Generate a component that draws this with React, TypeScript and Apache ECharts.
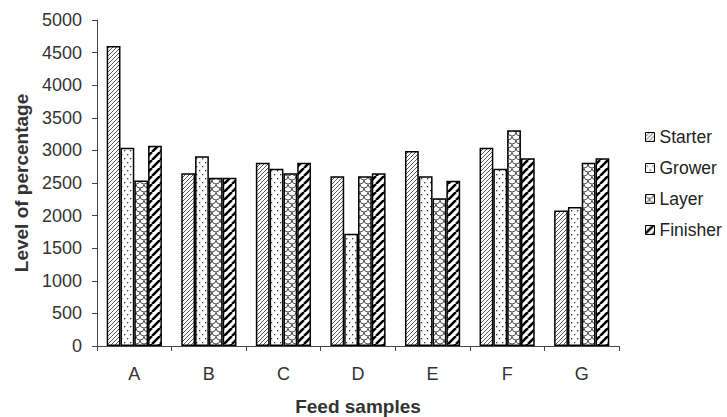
import React, { useEffect, useRef } from "react";
import * as echarts from "echarts";

const categories = ["A", "B", "C", "D", "E", "F", "G"];
const seriesNames = ["Starter", "Grower", "Layer", "Finisher"];
const starter = [4600, 2650, 2810, 2605, 2990, 3040, 2080];
const grower = [3040, 2910, 2720, 1720, 2605, 2720, 2130];
const layer = [2540, 2580, 2650, 2605, 2265, 3310, 2810];
const finisher = [3070, 2580, 2810, 2650, 2535, 2880, 2880];
const yTicks = { min: 0, max: 5000, interval: 500 };

function makeCanvas(w: number, h: number, draw: (c: CanvasRenderingContext2D) => void) {
  const cv = document.createElement("canvas");
  cv.width = w;
  cv.height = h;
  const ctx = cv.getContext("2d")!;
  ctx.fillStyle = "#ffffff";
  ctx.fillRect(0, 0, w, h);
  draw(ctx);
  return cv;
}

function diag(s: number, width: number, color: string) {
  return makeCanvas(s, s, (ctx) => {
    ctx.strokeStyle = color;
    ctx.lineWidth = width;
    ctx.beginPath();
    for (const k of [-1, 0, 1]) {
      ctx.moveTo(k * s, s);
      ctx.lineTo(k * s + s, 0);
    }
    ctx.stroke();
  });
}

function dots() {
  return makeCanvas(6, 8, (ctx) => {
    ctx.fillStyle = "#333";
    ctx.fillRect(1, 2, 1.3, 1.3);
    ctx.fillRect(4, 6, 1.3, 1.3);
  });
}

function scales() {
  return makeCanvas(8, 8, (ctx) => {
    ctx.strokeStyle = "#555";
    ctx.lineWidth = 1;
    ctx.beginPath();
    ctx.arc(4, 0, 4, 0, Math.PI);
    ctx.stroke();
    ctx.beginPath();
    ctx.arc(0, 4, 4, 0, Math.PI / 2);
    ctx.stroke();
    ctx.beginPath();
    ctx.arc(8, 4, 4, Math.PI / 2, Math.PI);
    ctx.stroke();
  });
}

export default function App() {
  const ref = useRef<HTMLDivElement>(null);
  useEffect(() => {
    const chart = echarts.init(ref.current!, null, { renderer: "svg" });
    const patterns = [
      diag(4, 1, "#555"),
      dots(),
      scales(),
      diag(8, 2.6, "#000"),
    ];
    const data = [starter, grower, layer, finisher];
    const font = "Liberation Sans, Arial, sans-serif";
    chart.setOption({
      animation: false,
      backgroundColor: "#ffffff",
      textStyle: { fontFamily: font },
      grid: { left: 97, top: 20, right: 108, bottom: 71, outerBoundsMode: "none", containLabel: false },
      legend: {
        orient: "vertical",
        left: 640,
        top: 123,
        itemWidth: 9,
        itemHeight: 9,
        itemGap: 13,
        icon: "rect",
        textStyle: { fontSize: 17.5, fontFamily: font, color: "#222", lineHeight: 18, padding: [0, 0, 0, 0] },
        itemStyle: { borderColor: "#000", borderWidth: 1 },
      },
      xAxis: {
        type: "category",
        data: categories,
        name: "Feed samples",
        nameLocation: "middle",
        nameGap: 51,
        nameTextStyle: { fontSize: 19, fontWeight: "bold", color: "#333", fontFamily: font },
        axisLine: { lineStyle: { color: "#444", width: 1 } },
        axisTick: { show: true, length: 5, lineStyle: { color: "#444" } },
        axisLabel: { fontSize: 18, color: "#333", margin: 19, fontFamily: font },
      },
      yAxis: {
        type: "value",
        min: yTicks.min,
        max: yTicks.max,
        interval: yTicks.interval,
        name: "Level of percentage",
        nameLocation: "middle",
        nameGap: 66,
        nameTextStyle: { fontSize: 19, fontWeight: "bold", color: "#333", fontFamily: font },
        axisLine: { show: true, lineStyle: { color: "#444", width: 1 } },
        axisTick: { show: true, length: 5, lineStyle: { color: "#444" } },
        axisLabel: { fontSize: 18, color: "#333", margin: 15, fontFamily: font, formatter: (v: number) => String(v) },
        splitLine: { show: false },
      },
      series: seriesNames.map((name, i) => ({
        name,
        type: "bar",
        data: data[i],
        barGap: "0%",
        barCategoryGap: "26%",
        itemStyle: {
          color: { image: patterns[i], repeat: "repeat" },
          borderColor: "#000",
          borderWidth: 1.5,
        },
        emphasis: { disabled: true },
      })),
    });
    return () => chart.dispose();
  }, []);
  return <div ref={ref} style={{ width: 727, height: 417, position: "absolute", left: 0, top: 0 }} />;
}
